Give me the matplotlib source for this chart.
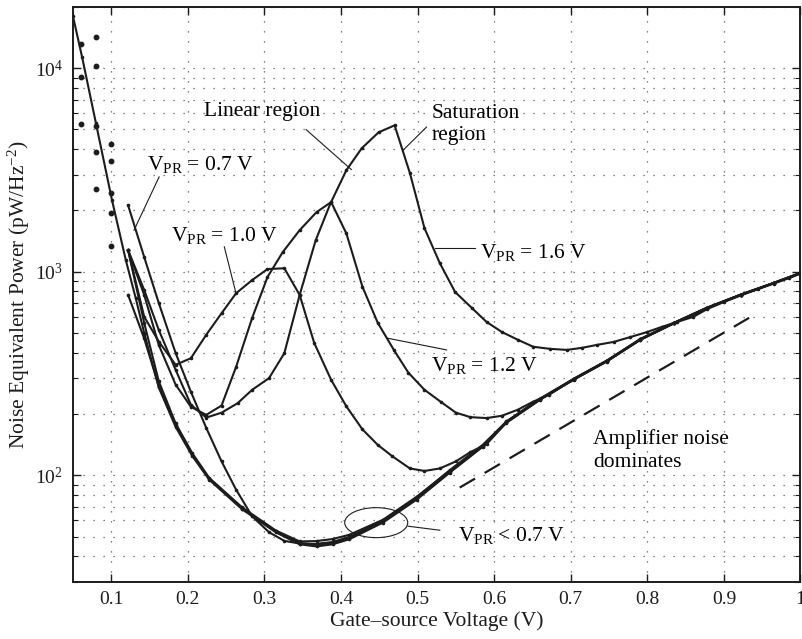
import matplotlib
matplotlib.use("Agg")
import matplotlib.pyplot as plt
import matplotlib.transforms as mtransforms
from matplotlib.patches import Ellipse
from matplotlib.ticker import FixedLocator, FixedFormatter, LogLocator, NullFormatter

plt.rcParams["font.family"] = ["Liberation Serif", "DejaVu Serif"]
plt.rcParams["mathtext.fontset"] = "custom"
plt.rcParams["mathtext.rm"] = "Liberation Serif"
plt.rcParams["mathtext.it"] = "Liberation Serif:italic"
plt.rcParams["mathtext.bf"] = "Liberation Serif:bold"

# V_PR < 0.7 V bundle (three nearly coincident traces)
vgs_b1 = [0.05, 0.062, 0.080, 0.101, 0.119, 0.132, 0.143, 0.162, 0.184, 0.206, 0.228, 0.271,
          0.315, 0.346, 0.368, 0.389, 0.411, 0.455, 0.499, 0.542, 0.585, 0.616, 0.660, 0.704,
          0.747, 0.791, 0.835, 0.878, 0.922, 0.965, 1.0]
nep_b1 = [18000, 11300, 5360, 2245, 1140, 740, 500, 270, 173, 124, 95, 68,
          52.4, 45.8, 44.7, 45.8, 48.5, 58.6, 76, 103, 138, 181, 235, 295,
          362, 463, 558, 662, 769, 878, 982]
vgs_b2 = [0.122, 0.143, 0.162, 0.184, 0.206, 0.228, 0.271, 0.315, 0.346, 0.368, 0.389, 0.411,
          0.455, 0.499, 0.542, 0.585, 0.616, 0.660, 0.704, 0.747, 0.791, 0.835, 0.878, 0.922,
          0.965, 1.0]
nep_b2 = [1276, 560, 290, 180, 128, 97, 69.5, 53.5, 47.3, 47.5, 48.6, 51.0,
          60.5, 78.5, 105, 140, 184, 238, 298, 366, 468, 562, 667, 773,
          882, 988]
vgs_b3 = vgs_b2
nep_b3 = [769, 470, 275, 176, 126, 96, 68.5, 53, 46.5, 45.5, 46.5, 49.2,
          59.5, 77, 104, 139, 182, 236, 296, 364, 465, 560, 664, 771,
          880, 985]

# V_PR = 0.7 V
vgs_07 = [0.122, 0.143, 0.162, 0.184, 0.204, 0.224, 0.244, 0.263, 0.284, 0.306, 0.326, 0.346,
          0.367, 0.389, 0.411, 0.455, 0.499, 0.542, 0.585, 0.616, 0.660, 0.704, 0.747, 0.791,
          0.835, 0.878, 0.922, 0.965, 1.0]
nep_07 = [2120, 1181, 703, 399, 257, 171, 117, 85, 62.8, 52.5, 47.6, 46.2,
          46.0, 47.0, 49.8, 60, 78, 106, 141, 183, 238, 297, 364, 466,
          561, 665, 771, 880, 986]

# V_PR = 1.0 V
vgs_10 = [0.122, 0.143, 0.162, 0.184, 0.204, 0.224, 0.244, 0.263, 0.284, 0.304, 0.326, 0.346,
          0.365, 0.387, 0.407, 0.428, 0.448, 0.467, 0.490, 0.509, 0.529, 0.550, 0.569, 0.590,
          0.616, 0.660, 0.704, 0.747, 0.791, 0.835, 0.878, 0.922, 0.965, 1.0]
nep_10 = [1276, 601, 454, 349, 376, 490, 625, 784, 910, 1031, 1040, 769,
          447, 295, 218, 168, 141, 124, 108, 105, 108, 117, 130, 142,
          182, 236, 296, 363, 464, 559, 663, 770, 879, 983]

# V_PR = 1.2 V
vgs_12 = [0.122, 0.143, 0.162, 0.184, 0.204, 0.224, 0.244, 0.265, 0.284, 0.306, 0.326, 0.346,
          0.367, 0.387, 0.407, 0.428, 0.448, 0.469, 0.488, 0.509, 0.530, 0.550, 0.569, 0.590,
          0.610, 0.631, 0.651, 0.672, 0.704, 0.747, 0.791, 0.835, 0.878, 0.922, 0.965, 1.0]
nep_12 = [1276, 813, 518, 330, 222, 192, 203, 226, 263, 300, 398, 769,
          1430, 2203, 1542, 844, 561, 413, 319, 263, 230, 203, 193, 191,
          196, 210, 230, 249, 298, 365, 465, 560, 664, 770, 880, 985]

# V_PR = 1.6 V
vgs_16 = [0.122, 0.143, 0.162, 0.184, 0.204, 0.224, 0.244, 0.263, 0.284, 0.304, 0.324, 0.346,
          0.368, 0.387, 0.407, 0.427, 0.449, 0.470, 0.490, 0.509, 0.529, 0.549, 0.571, 0.590,
          0.610, 0.631, 0.651, 0.673, 0.695, 0.715, 0.734, 0.756, 0.778, 0.800, 0.819, 0.839,
          0.860, 0.878, 0.900, 0.922, 0.944, 0.965, 0.985, 1.0]
nep_16 = [1276, 769, 437, 279, 217, 198, 220, 341, 593, 942, 1250, 1600,
          1962, 2197, 3155, 4040, 4840, 5240, 3050, 1637, 1103, 795, 663, 567,
          506, 463, 428, 418, 413, 423, 437, 452, 478, 506, 536, 567,
          600, 655, 710, 765, 820, 875, 930, 980]

# loose points at low gate voltage
dot_vgs = [0.06, 0.06, 0.06, 0.08, 0.08, 0.08, 0.08, 0.08, 0.10, 0.10, 0.10, 0.10, 0.10]
dot_nep = [13180, 9030, 5300, 14300, 10230, 5180, 3870, 2540, 4256, 3493, 2438, 1933, 1340]

# amplifier noise floor (dashed)
amp_vgs = [0.555, 0.935]
amp_nep = [87, 600]

xtick_vals = [0.1, 0.2, 0.3, 0.4, 0.5, 0.6, 0.7, 0.8, 0.9, 1.0]
xtick_labels = ["0.1", "0.2", "0.3", "0.4", "0.5", "0.6", "0.7", "0.8", "0.9", "1"]

ink = "#1c1c1c"
fs = 15.5

fig = plt.figure(figsize=(8.02, 6.39), dpi=100)
ax = fig.add_axes([0.091, 0.0897, 0.9071, 0.8994])
ax.set_yscale("log")
ax.set_xlim(0.05, 1.0)
ax.set_ylim(30, 20000)

grid_style = dict(color="0.35", linestyle=(0, (1, 7)), linewidth=0.9)
ax.grid(True, which="major", axis="x", **grid_style)
ax.grid(True, which="both", axis="y", **grid_style)
ax.set_axisbelow(True)

curves = [(vgs_b1, nep_b1), (vgs_b2, nep_b2), (vgs_b3, nep_b3), (vgs_07, nep_07),
          (vgs_10, nep_10), (vgs_12, nep_12), (vgs_16, nep_16)]
for xs, ys in curves:
    ax.plot(xs, ys, "-", color=ink, lw=1.5, marker=".", ms=3.2, zorder=3)

ax.plot(dot_vgs, dot_nep, "o", color=ink, ms=3.2, ls="none", zorder=3)
ax.plot(amp_vgs, amp_nep, color=ink, lw=1.6, dashes=(8, 5), zorder=3)

# annotations and leader lines
def leader(x0, y0, x1, y1):
    ax.plot([x0, x1], [y0, y1], color=ink, lw=0.8, zorder=4)

ax.text(0.221, 6140, "Linear region", fontsize=fs, ha="left", va="center")
leader(0.3545, 4990, 0.4135, 3178)
ax.text(0.518, 5290, "Saturation\nregion", fontsize=fs, ha="left", va="center",
        linespacing=1.25)
leader(0.5117, 5140, 0.481, 3953)
ax.text(0.147, 3152, r"V$_{\mathrm{PR}}$ = 0.7 V", fontsize=fs, ha="left", va="baseline")
leader(0.1625, 2925, 0.1297, 1600)
ax.text(0.178, 1419, r"V$_{\mathrm{PR}}$ = 1.0 V", fontsize=fs, ha="left", va="baseline")
leader(0.2476, 1326, 0.2629, 783)
ax.text(0.5814, 1164, r"V$_{\mathrm{PR}}$ = 1.6 V", fontsize=fs, ha="left", va="baseline")
leader(0.5225, 1303, 0.5749, 1303)
ax.text(0.518, 324, r"V$_{\mathrm{PR}}$ = 1.2 V", fontsize=fs, ha="left", va="baseline")
leader(0.5378, 413, 0.4614, 471)
ax.text(0.553, 47.5, r"V$_{\mathrm{PR}}$ < 0.7 V", fontsize=fs, ha="left", va="baseline")
leader(0.4876, 56.2, 0.529, 53.7)
ax.text(0.729, 132.4, "Amplifier noise\ndominates", fontsize=fs, ha="left", va="center",
        linespacing=1.25)

ell_trans = fig.dpi_scale_trans + mtransforms.ScaledTranslation(0.446, 58.5, ax.transData)
ax.add_patch(Ellipse((0, 0), 0.63, 0.30, transform=ell_trans, fill=False, ec=ink, lw=0.8,
                     zorder=4))

ax.xaxis.set_major_locator(FixedLocator(xtick_vals))
ax.xaxis.set_major_formatter(FixedFormatter(xtick_labels))
ax.yaxis.set_major_locator(LogLocator(base=10, numticks=10))
ax.yaxis.set_minor_locator(LogLocator(base=10, subs=range(2, 10), numticks=20))
ax.yaxis.set_minor_formatter(NullFormatter())

ax.tick_params(which="both", direction="in", top=True, right=True, colors=ink)
ax.tick_params(which="major", length=6, width=1.0, labelsize=14, pad=7)
ax.tick_params(which="minor", length=3.5, width=0.8)
for sp in ax.spines.values():
    sp.set_linewidth(1.4)
    sp.set_color(ink)

ax.set_xlabel("Gate–source Voltage (V)", fontsize=fs, color=ink)
ax.set_ylabel(r"Noise Equivalent Power (pW/Hz$^{-2}$)", fontsize=fs, color=ink)
ax.xaxis.set_label_coords(0.5, -0.052)
ax.yaxis.set_label_coords(-0.056, 0.5)

fig.savefig("out.png", dpi=100)
